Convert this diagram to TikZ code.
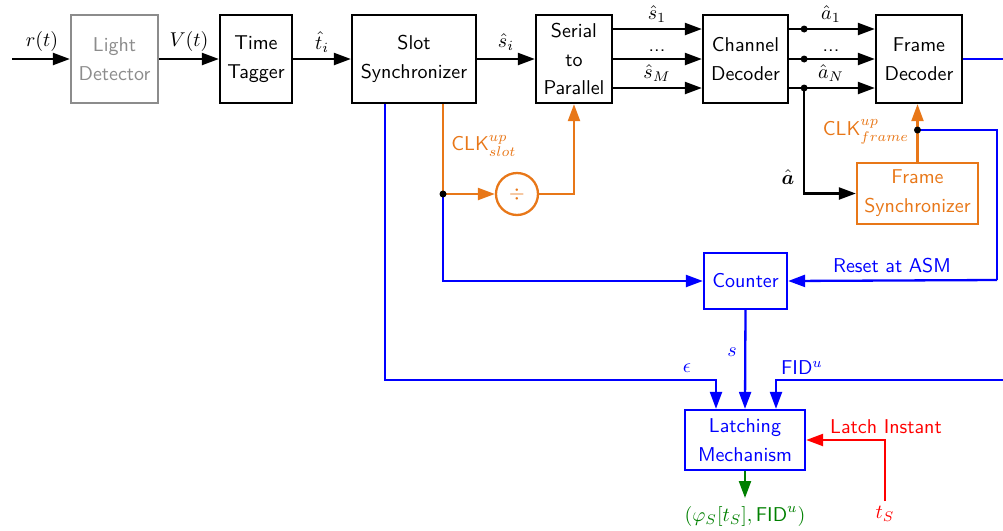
\documentclass[tikz,border=0pt]{standalone}
\usepackage{amsmath,bm}
\usetikzlibrary{arrows.meta,calc}
\newlength\pxu \setlength\pxu{0.5pt}
\definecolor{orng}{RGB}{232,119,24}
\definecolor{blu}{RGB}{0,0,255}
\definecolor{grn}{RGB}{0,128,0}
\definecolor{rd}{RGB}{255,0,0}
\definecolor{gry}{RGB}{140,140,140}
\begin{document}
\begin{tikzpicture}[x=0.5pt,y=-0.5pt, line width=1.15pt, font=\sffamily,
 blk/.style={draw, align=center, inner sep=0pt, font=\sffamily\linespread{1.2}\selectfont},
 arr/.style={-{Triangle[length=8.5pt,width=6pt]}},
 dot/.style={circle, fill, inner sep=0pt, minimum size=3.5pt},
 lbl/.style={inner sep=0pt}]
\useasboundingbox (0,0) rectangle (1003,531);

% blocks
\node[blk, draw=gry, text=gry, minimum width=87\pxu, minimum height=88\pxu] (ld) at (114.5,59) {Light\\Detector};
\node[blk, minimum width=72\pxu, minimum height=88\pxu] (tt) at (256,59) {Time\\Tagger};
\node[blk, minimum width=124\pxu, minimum height=88\pxu] (ss) at (414,59) {Slot\\Synchronizer};
\node[blk, minimum width=76\pxu, minimum height=88\pxu] (sp) at (574,59) {Serial\\to\\Parallel};
\node[blk, minimum width=85\pxu, minimum height=88\pxu] (cd) at (745.5,59) {Channel\\Decoder};
\node[blk, minimum width=86\pxu, minimum height=88\pxu] (fd) at (919,59) {Frame\\Decoder};
\node[blk, draw=orng, text=orng, minimum width=121\pxu, minimum height=61\pxu] (fs) at (917.5,193.5) {Frame\\Synchronizer};
\node[blk, draw=blu, text=blu, minimum width=83\pxu, minimum height=56\pxu] (ctr) at (745.5,281) {Counter};
\node[blk, draw=blu, text=blu, minimum width=120\pxu, minimum height=60\pxu] (lm) at (745,440) {Latching\\Mechanism};
\node[circle, draw=orng, text=orng, minimum size=42\pxu, inner sep=0pt] (div) at (517,194) {$\div$};

% coordinates
\coordinate (in) at (12,59);
\coordinate (l1) at (0,29);
\coordinate (l3) at (0,88);
\coordinate (fdout) at (1003,59);
\coordinate (rr) at (997,130);
\coordinate (rb) at (997,280);
\coordinate (ybus) at (0,380);
\coordinate (fidR) at (1003,380);
\coordinate (out) at (745,498);

% main chain
\draw[arr] (in) -- (ld.west);
\draw[arr, draw=black] (ld.east) -- (tt.west);
\draw[arr] (tt.east) -- (ss.west);
\draw[arr] (ss.east) -- (sp.west);
\draw[arr] (sp.east|-l1) -- (cd.west|-l1);
\draw[arr] (sp.east) -- (cd.west);
\draw[arr] (sp.east|-l3) -- (cd.west|-l3);
\draw[arr] (cd.east|-l1) -- (fd.west|-l1);
\draw[arr] (cd.east) -- (fd.west);
\draw[arr] (cd.east|-l3) -- (fd.west|-l3);
\coordinate (d1) at ($(cd.east|-l1)+(15,0)$);
\coordinate (d2) at ($(cd.east)+(15,0)$);
\coordinate (d3) at ($(cd.east|-l3)+(15,0)$);
\node[dot] (dd1) at (d1) {};
\node[dot] (dd2) at (d2) {};
\node[dot] (dd3) at (d3) {};
\draw[arr] (d3) |- (fs.west);

% frame sync clock
\draw[arr, orng] (fs.north) -- (fs.north|-fd.south);
\coordinate (dfr) at (fs.north|-rr);
\draw[blu] (dfr) -- (rr) -- (rb);
\draw[arr, blu] (rb) -- (ctr.east);
\node[dot] (dfrn) at (dfr) {};
\draw[blu] (fd.east) -- (fdout);

% slot clock
\coordinate (so) at ($(ss.south)+(29,0)$);
\coordinate (sb) at ($(ss.south)+(-29,0)$);
\coordinate (sdot) at (so|-div);
\draw[orng] (so) -- (sdot);
\draw[arr, orng] (sdot) -- (div.west);
\draw[arr, orng] (div.east) -| (sp.south);
\draw[arr, blu] (sdot) |- (ctr.west);
\node[dot] (sdotn) at (sdot) {};

% to latching
\coordinate (le) at ($(lm.north)+(-29,0)$);
\coordinate (lf) at ($(lm.north)+(31,0)$);
\draw[arr, blu] (sb) |- (le|-ybus) -- (le);
\draw[arr, blu] (ctr.south) -- (lm.north);
\draw[arr, blu] (fidR) -| (lf);
\draw[arr, grn] (lm.south) -- (out);
\node[lbl, text=rd] (ts) at (885,514) {$t_S$};
\draw[arr, rd] ($(ts.north)+(0,-4)$) |- (lm.east);

% labels
\node[lbl] (lr) at (42,41) {$r(t)$};
\node[lbl] (lv) at (189,41) {$V(t)$};
\node[lbl] (lt) at (322,42) {$\hat{t}_i$};
\node[lbl] (lsi) at (506,42) {$\hat{s}_i$};
\node[lbl] (ls1) at (657,14) {$\hat{s}_1$};
\node[lbl, anchor=base] (lsd) at (657,51) {...};
\node[lbl] (lsm) at (657,73) {$\hat{s}_M$};
\node[lbl] (la1) at (831,14) {$\hat{a}_1$};
\node[lbl, anchor=base] (lad) at (831,51) {...};
\node[lbl] (lan) at (831,73) {$\hat{a}_N$};
\node[lbl] (lab) at (788,177) {$\hat{\bm{a}}$};
\node[lbl, text=orng] (lcf) at (866,132) {CLK$^{up}_{frame}$};
\node[lbl, text=orng] (lcs) at (484,146) {CLK$^{up}_{slot}$};
\node[lbl, text=blu] (lra) at (892,266) {Reset at ASM};
\node[lbl, text=blu] (lsl) at (732,352) {$s$};
\node[lbl, text=blu] (lep) at (687,368) {$\epsilon$};
\node[lbl, text=blu] (lfid) at (802,368) {FID$^u$};
\node[lbl, text=rd] (lli) at (886,427) {Latch Instant};
\node[lbl, text=grn] (lout) at (745,516) {$(\varphi_S[t_S],\textsf{FID}^u)$};
\end{tikzpicture}
\end{document}
